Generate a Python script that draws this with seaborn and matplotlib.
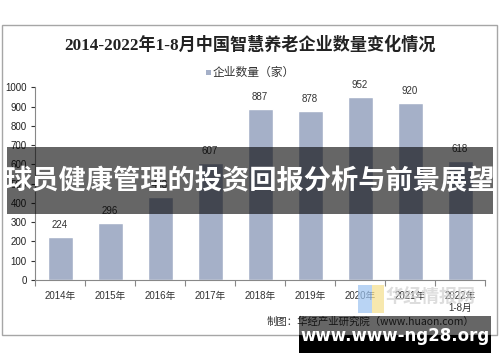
import numpy as np
import pandas as pd
import matplotlib
matplotlib.use('Agg')
import matplotlib.pyplot as plt
from matplotlib.patches import Rectangle
import seaborn as sns

# 数据
years = ['2014年', '2015年', '2016年', '2017年', '2018年', '2019年', '2020年', '2021年', '2022年\n1-8月']
counts = [224, 296, 433, 607, 887, 878, 952, 920, 618]
y_ticks = [0, 100, 200, 300, 400, 500, 600, 700, 800, 900, 1000]

title = '2014-2022年1-8月中国智慧养老企业数量变化情况'
legend_label = '企业数量（家）'
source = '制图：华经产业研究院（www.huaon.com）'
banner = '球员健康管理的投资回报分析与前景展望'
site = 'www.www-ng28.org'

sns.set_style('white')
plt.rcParams['font.family'] = ['Liberation Sans', 'Noto Sans CJK SC', 'DejaVu Sans']

W, H = 500, 362
fig = plt.figure(figsize=(W / 100, H / 100), dpi=100)


def fx(px):
    return px / W


def fy(py):
    return 1 - py / H


# 外框
fig.patches.append(Rectangle((fx(2), fy(335)), fx(495), 310 / H, transform=fig.transFigure,
                             fill=False, edgecolor='#a6a6a6', lw=1.0, zorder=0))

ax = fig.add_axes([fx(35), fy(280), fx(450), (280 - 87.3) / H])
df = pd.DataFrame({'year': years, 'count': counts})
sns.barplot(data=df, x='year', y='count', color='#a5b0c8', saturation=1, width=0.5, ax=ax)

ax.set_ylim(0, 1000)
ax.set_xlim(-0.5, len(years) - 0.5)
ax.set_yticks(y_ticks)
ax.set_xlabel('')
ax.set_ylabel('')
ax.tick_params(axis='y', labelsize=7, colors='#333333', length=3, width=0.8, direction='out', left=True, pad=3)
ax.tick_params(axis='x', which='major', labelsize=7, colors='#333333', length=0, pad=8)
ax.set_xticks(np.arange(-0.5, len(years), 1), minor=True)
ax.tick_params(axis='x', which='minor', length=4, width=0.8, color='#888888', bottom=True, direction='out')
for s in ['top', 'right']:
    ax.spines[s].set_visible(False)
for s in ['left', 'bottom']:
    ax.spines[s].set_color('#888888')
    ax.spines[s].set_linewidth(0.8)
for lab in ax.get_yticklabels():
    lab.set_color('#222222')

# 数值标签
for i, v in enumerate(counts):
    ax.annotate(str(v), (i, v), xytext=(0, 5), textcoords='offset points',
                ha='center', va='bottom', fontsize=7, color='#333333')

# 标题和图例
fig.text(0.5, fy(45), title, ha='center', va='center', fontsize=12.3, fontweight='bold',
         family=['Liberation Serif', 'Noto Sans CJK SC'], color='#222222')
fig.patches.append(Rectangle((fx(206), fy(75)), fx(5), 5 / H, transform=fig.transFigure,
                             color='#a5b0c8', lw=0))
fig.text(fx(213), fy(72), legend_label, ha='left', va='center', fontsize=8.5, color='#333333',
         family=['Noto Sans CJK SC'])

# 水印 logo
fig.text(fx(430), fy(297), '华经情报网', ha='center', va='center', fontsize=13, color='#cfcfcf',
         alpha=0.7, family=['Noto Sans CJK SC'], fontweight='bold')
fig.patches.append(Rectangle((fx(358), fy(313)), fx(14), 28 / H, transform=fig.transFigure,
                             color='#9cc3f0', alpha=0.7, lw=0))
fig.patches.append(Rectangle((fx(372), fy(313)), fx(12), 28 / H, transform=fig.transFigure,
                             color='#f5df8c', alpha=0.7, lw=0))

# 来源
fig.text(fx(267), fy(322), source, ha='left', va='center', fontsize=7.5, color='#333333',
         family=['Noto Sans CJK SC'])

# 横幅
fig.patches.append(Rectangle((fx(7), fy(214)), fx(486), 67 / H, transform=fig.transFigure,
                             color='black', alpha=0.6, lw=0, zorder=5))
fig.text(0.5, fy(181), banner, ha='center', va='center', fontsize=19.6, fontweight='bold',
         color='white', family=['Noto Sans CJK SC'], zorder=6)

# 网址框
fig.patches.append(Rectangle((fx(299), fy(335)), fx(192), 19 / H, transform=fig.transFigure,
                             color='black', alpha=0.6, lw=0, zorder=5))
fig.patches.append(Rectangle((fx(299), fy(353)), fx(192), 18 / H, transform=fig.transFigure,
                             color='black', lw=0, zorder=5))
fig.text(fx(395), fy(336), site, ha='center', va='center', fontsize=12, fontweight='bold',
         color='white', family=['DejaVu Sans'], zorder=6)

fig.savefig('out.png', dpi=100, facecolor='white')
